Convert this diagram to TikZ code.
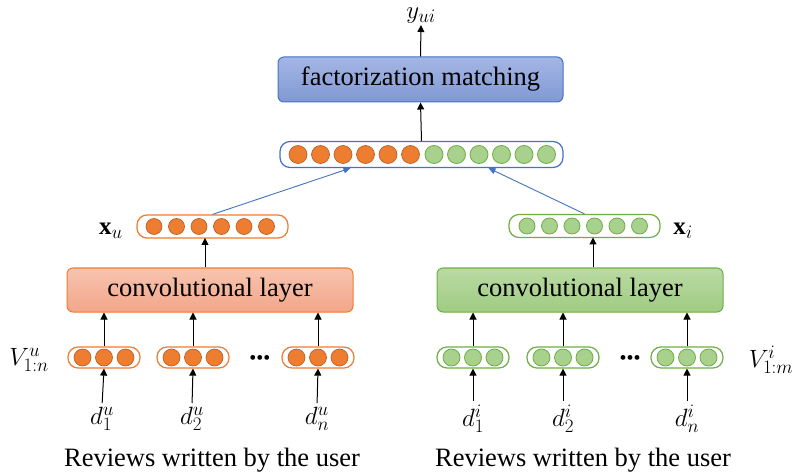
\RequirePackage{fix-cm}
\documentclass[tikz,border=0pt]{standalone}
\usepackage{fontspec}
\setmainfont{Liberation Serif}
\DeclareMathSizes{25}{25}{19}{15}
\usetikzlibrary{arrows.meta,calc}
\definecolor{orF}{HTML}{ED7D31}
\definecolor{orD}{HTML}{B55A1E}
\definecolor{grF}{HTML}{A9D18E}
\definecolor{grD}{HTML}{70AD47}
\definecolor{blD}{HTML}{4472C4}
\definecolor{arrBlue}{HTML}{4472C4}
\definecolor{fmTop}{RGB}{164,182,228}
\definecolor{fmBot}{RGB}{128,152,212}
\definecolor{oTop}{RGB}{247,196,176}
\definecolor{oBot}{RGB}{243,166,137}
\definecolor{gTop}{RGB}{186,218,164}
\definecolor{gBot}{RGB}{160,204,130}
\tikzset{
  lbl/.style={font=\fontsize{26.5}{30}\selectfont, inner sep=0pt},
  mlbl/.style={font=\fontsize{25}{28}\selectfont, inner sep=1pt},
  vecbox/.style={draw, line width=1.2pt, fill=white, rounded corners=10pt, inner sep=0pt},
  ocirc/.style={circle, draw=orD, line width=0.6pt, fill=orF, minimum size=17pt, inner sep=0pt},
  gcirc/.style={circle, draw=grD, line width=0.8pt, fill=grF, minimum size=17pt, inner sep=0pt},
  layerbox/.style={draw, line width=1pt, rounded corners=6pt, inner sep=0pt},
  arr/.style={-{Triangle[length=7pt,width=7pt]}, line width=1pt, black},
  barr/.style={-{Triangle[length=7pt,width=6pt]}, line width=0.9pt, arrBlue},
}
\begin{document}
\begin{tikzpicture}[x=1pt,y=-1pt]
\useasboundingbox (0,0) rectangle (798,473);

% top label and factorization box
\node[mlbl] (yui) at (421,16) {$y_{ui}$};
\node[layerbox, draw=blD, top color=fmTop, bottom color=fmBot,
      minimum width=285pt, minimum height=45pt] (fm) at (420.5,79.5) {};
\node[lbl] (fmt) at (fm.center) {factorization matching};

% concatenated vector
\node[vecbox, draw=blD, minimum width=283pt, minimum height=26pt] (cat) at (421.5,154.5) {};
\foreach \x [count=\i] in {298,320.5,343,365.5,388,410.5}
  \node[ocirc, minimum size=18pt] (co\i) at (\x,154.5) {};
\foreach \x [count=\i] in {434,456.5,479,501.5,524,546.5}
  \node[gcirc, minimum size=18pt] (cg\i) at (\x,154.5) {};

% user vector x_u
\node[vecbox, draw=orF, minimum width=151pt, minimum height=23pt] (xu) at (212.5,226.5) {};
\foreach \x [count=\i] in {154,176.5,199,221.5,244,266.5}
  \node[ocirc, minimum size=16pt] (xuc\i) at (\x,226.5) {};
\node[mlbl] (xul) at (111,231) {$\mathbf{x}_u$};
\coordinate (xuin) at (205,238);

% item vector x_i
\node[vecbox, draw=grD, minimum width=151pt, minimum height=23pt] (xi) at (584.5,226) {};
\foreach \x [count=\i] in {527,549.5,572,594.5,617,639.5}
  \node[gcirc, minimum size=16pt] (xic\i) at (\x,226) {};
\node[mlbl] (xil) at (683,231) {$\mathbf{x}_i$};
\coordinate (xiin) at (593,237.5);

% convolutional layers
\node[layerbox, draw=orF, top color=oTop, bottom color=oBot,
      minimum width=286pt, minimum height=44pt] (convL) at (210,290) {};
\node[lbl] (convLt) at (convL.center) {convolutional layer};
\node[layerbox, draw=grD, top color=gTop, bottom color=gBot,
      minimum width=286pt, minimum height=44pt] (convR) at (580,290) {};
\node[lbl] (convRt) at (convR.center) {convolutional layer};

% small review vectors, user side
\foreach \cx/\n in {104/vu1,193/vu2,318/vu3}{
  \node[vecbox, draw=orF, minimum width=72pt, minimum height=21pt] (\n) at (\cx,357.5) {};
  \foreach \dx in {-21.5,0,21.5}
    \node[ocirc] at (\cx+\dx,357.5) {};
}
\node[font=\fontsize{20}{24}\selectfont, inner sep=0pt] (dotsu) at (260,360) {•••};
\node[mlbl] (Vu) at (29,360) {$V^u_{1:n}$};

% small review vectors, item side
\foreach \cx/\n in {473/vi1,563/vi2,687/vi3}{
  \node[vecbox, draw=grD, minimum width=72pt, minimum height=21pt] (\n) at (\cx,357.5) {};
  \foreach \dx in {-21.5,0,21.5}
    \node[gcirc] at (\cx+\dx,357.5) {};
}
\node[font=\fontsize{20}{24}\selectfont, inner sep=0pt] (dotsi) at (630,360) {•••};
\node[mlbl] (Vi) at (771,360) {$V^i_{1:m}$};

% document labels
\node[mlbl] (du1) at (102,419) {$d^u_1$};
\node[mlbl] (du2) at (192,419) {$d^u_2$};
\node[mlbl] (du3) at (317,419) {$d^u_n$};
\node[mlbl] (di1) at (473,419) {$d^i_1$};
\node[mlbl] (di2) at (563,419) {$d^i_2$};
\node[mlbl] (di3) at (687,419) {$d^i_n$};

\node[lbl] (revu) at (212,460) {Reviews written by the user};
\node[lbl] (revi) at (583,460) {Reviews written by the user};

% arrows
\draw[arr] (fm.north) -- (yui.south);
\draw[arr] (cat.north) -- (fm.south);
\draw[barr] (xu.north) -- ($(cat.south)+(-71,0)$);
\draw[barr] (xi.north) -- ($(cat.south)+(67,0)$);
\draw[arr] (convL.north -| xuin) -- (xuin);
\draw[arr] (convR.north -| xiin) -- (xiin);
\foreach \v/\d in {vu1/du1,vu2/du2,vu3/du3,vi1/di1,vi2/di2,vi3/di3}{
  \draw[arr, shorten <=3pt] (\d.north) -- (\v.south);
}
\foreach \v in {vu1,vu2,vu3}
  \draw[arr] (\v.north) -- (\v.north |- convL.south);
\foreach \v in {vi1,vi2,vi3}
  \draw[arr] (\v.north) -- (\v.north |- convR.south);
\end{tikzpicture}
\end{document}
